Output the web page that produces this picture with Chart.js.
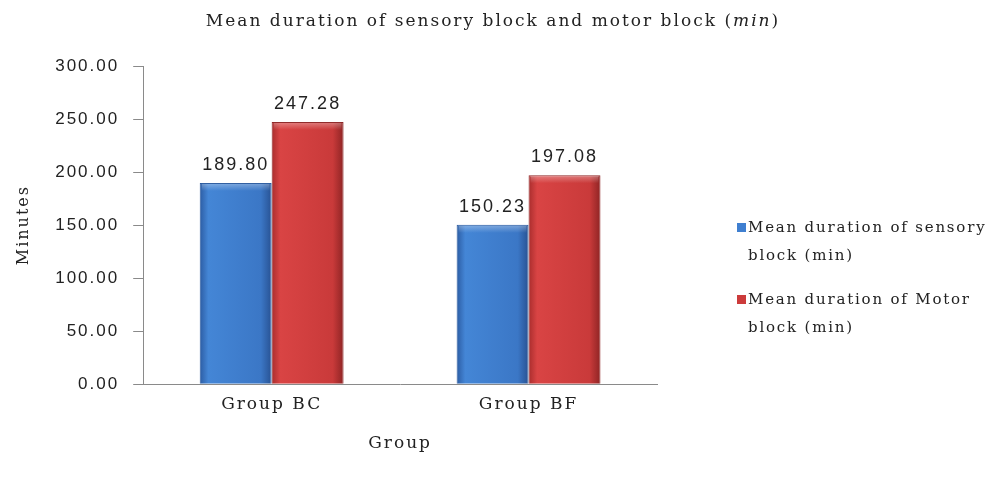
<!DOCTYPE html>
<html><head><meta charset="utf-8">
<script src="https://cdn.jsdelivr.net/npm/chart.js@4.4.1/dist/chart.umd.min.js"></script>
<style>html,body{margin:0;padding:0;background:#fff}#wrap{width:995px;height:492px}</style>
</head><body><div id="wrap"><canvas id="c" width="995" height="492"></canvas></div>
<script>
const categories = ["Group BC", "Group BF"];
const sensoryValues = [189.80, 150.23];
const motorValues = [247.28, 197.08];
const seriesNames = ["Mean duration of sensory block (min)", "Mean duration of Motor block (min)"];
const legendLines = [["Mean duration of sensory", "block (min)"], ["Mean duration of Motor", "block (min)"]];
const yTicks = [0, 50, 100, 150, 200, 250, 300];
const titleParts = ["Mean duration of sensory block and motor block (", "min", ")"];

const serif = "'DejaVu Serif', serif";
const sans = "'Liberation Sans', Arial, sans-serif";
const LS = "2px";

function barFill(colors) {
  return function(context) {
    const chart = context.chart;
    const el = context.element;
    if (!chart.chartArea || !el || !Number.isFinite(el.x) || !Number.isFinite(el.width) || el.width <= 0) return colors[1];
    const w = el.width;
    const g = chart.ctx.createLinearGradient(el.x - w/2, 0, el.x + w/2, 0);
    g.addColorStop(0, colors[0]); g.addColorStop(0.12, colors[1]);
    g.addColorStop(0.85, colors[2]); g.addColorStop(1, colors[3]);
    return g;
  };
}

const spacing = {
  id: 'spacing',
  beforeLayout(chart) { chart.ctx.letterSpacing = LS; },
  beforeDraw(chart) { chart.ctx.letterSpacing = LS; }
};

const bevel = {
  id: 'bevel',
  afterDatasetsDraw(chart) {
    const ctx = chart.ctx;
    ctx.save();
    chart.data.datasets.forEach((ds, i) => {
      chart.getDatasetMeta(i).data.forEach((bar) => {
        const l = bar.x - bar.width/2, t = bar.y;
        const g = ctx.createLinearGradient(0, t, 0, t + 8);
        g.addColorStop(0, 'rgba(255,255,255,0.35)');
        g.addColorStop(1, 'rgba(255,255,255,0)');
        ctx.fillStyle = g;
        ctx.fillRect(l + 2, t + 1, bar.width - 4, 8);
      });
    });
    ctx.restore();
  }
};

const valueLabels = {
  id: 'valueLabels',
  afterDatasetsDraw(chart) {
    const ctx = chart.ctx;
    ctx.save();
    ctx.letterSpacing = LS;
    ctx.font = "18px " + sans;
    ctx.fillStyle = "#222";
    ctx.textAlign = "center";
    ctx.textBaseline = "alphabetic";
    chart.data.datasets.forEach((ds, i) => {
      chart.getDatasetMeta(i).data.forEach((bar, j) => {
        ctx.fillText(ds.data[j].toFixed(2), bar.x, bar.y - 13);
      });
    });
    ctx.restore();
  }
};

const titleAndLegend = {
  id: 'titleAndLegend',
  afterDraw(chart) {
    const ctx = chart.ctx;
    ctx.save();
    ctx.letterSpacing = LS;
    ctx.textBaseline = "middle";
    ctx.fillStyle = "#222";
    const fonts = ["17px " + serif, "italic 17px " + serif, "17px " + serif];
    let total = 0;
    const widths = titleParts.map((t, k) => { ctx.font = fonts[k]; const w = ctx.measureText(t).width; total += w; return w; });
    let x = 493 - total / 2;
    titleParts.forEach((t, k) => { ctx.font = fonts[k]; ctx.textAlign = "left"; ctx.fillText(t, x, 22); x += widths[k]; });
    ctx.letterSpacing = "1.8px";
    ctx.font = "15px " + serif;
    const lx = 737, y0 = 228;
    legendLines.forEach((lines, i) => {
      const y = y0 + i * 72;
      ctx.fillStyle = chart.data.datasets[i].legendColor;
      ctx.fillRect(lx, y - 5, 9, 9);
      ctx.fillStyle = "#222";
      lines.forEach((t, k) => ctx.fillText(t, lx + 11, y + k * 28));
    });
    ctx.restore();
  }
};

const chart = new Chart(document.getElementById('c'), {
  type: 'bar',
  data: {
    labels: categories,
    datasets: [
      { label: seriesNames[0], data: sensoryValues, legendColor: "#3f7fd0",
        backgroundColor: barFill(["#2c5ca3", "#4486d6", "#3b77c6", "#285293"]),
        borderColor: "#2a5a9e", borderWidth: 1 },
      { label: seriesNames[1], data: motorValues, legendColor: "#cc3b3b",
        backgroundColor: barFill(["#a92d2d", "#d94444", "#c93a3a", "#8e2424"]),
        borderColor: "#8e2626", borderWidth: 1 }
    ]
  },
  options: {
    responsive: false,
    animation: false,
    layout: { padding: { left: 10, right: 338, top: 66, bottom: 34 } },
    categoryPercentage: 0.56,
    barPercentage: 1.0,
    plugins: {
      legend: { display: false },
      tooltip: { enabled: false },
      title: { display: false }
    },
    scales: {
      x: {
        grid: { display: true, drawOnChartArea: false, drawTicks: false, color: "#8a8a8a" },
        border: { color: "#8a8a8a" },
        ticks: { font: { family: serif, size: 17 }, color: "#222", padding: 10 },
        title: { display: true, text: "Group", font: { family: serif, size: 17 }, color: "#222", padding: { top: 9 } }
      },
      y: {
        min: 0, max: 300,
        afterBuildTicks(axis) { axis.ticks = yTicks.map(v => ({ value: v })); },
        grid: { display: true, drawOnChartArea: false, drawTicks: true, tickLength: 10, color: "#8a8a8a" },
        border: { color: "#8a8a8a" },
        ticks: { font: { family: sans, size: 17 }, color: "#222", padding: 14,
          callback: v => Number(v).toFixed(2) },
        title: { display: true, text: "Minutes", font: { family: serif, size: 16 }, color: "#222", padding: { bottom: 8 } }
      }
    }
  },
  plugins: [spacing, bevel, valueLabels, titleAndLegend]
});
chart.update();
</script>
</body></html>
